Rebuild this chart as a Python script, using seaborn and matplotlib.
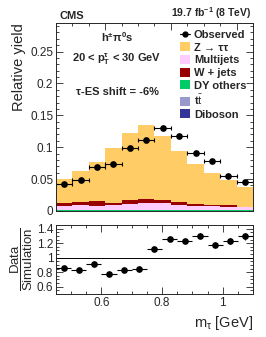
import numpy as np
import seaborn as sns
import matplotlib.pyplot as plt
from matplotlib.patches import Patch
from matplotlib.lines import Line2D
from matplotlib.ticker import MultipleLocator

sns.set_theme(style="ticks")
plt.rcParams['font.family'] = ['Liberation Sans', 'DejaVu Sans']
plt.rcParams['mathtext.fontset'] = 'custom'
plt.rcParams['mathtext.rm'] = 'Liberation Sans'
plt.rcParams['mathtext.it'] = 'Liberation Sans:italic'
plt.rcParams['mathtext.bf'] = 'Liberation Sans:bold'

# main panel: 12 bins of m_tau
main_edges = np.arange(0.45, 1.0501, 0.05)
diboson = [0.0002] * 12
ttbar = [0.0002] * 12
dy_others = [0.0005] * 12
multijets = [0.0070, 0.0081, 0.0075, 0.0081, 0.0101, 0.0113, 0.0113, 0.0091, 0.0075, 0.0070, 0.0059, 0.0050]
wjets = [0.0043, 0.0048, 0.0070, 0.0032, 0.0065, 0.0073, 0.0053, 0.0043, 0.0032, 0.0021, 0.0022, 0.0009]
ztautau = [0.0378, 0.0486, 0.0613, 0.0858, 0.1052, 0.1159, 0.0995, 0.0794, 0.0619, 0.0495, 0.0388, 0.0304]
observed = [0.0424, 0.0492, 0.0683, 0.0741, 0.0984, 0.1120, 0.1300, 0.1175, 0.0905, 0.0778, 0.0551, 0.0460]
observed_err = [0.0020, 0.0021, 0.0024, 0.0025, 0.0028, 0.0030, 0.0032, 0.0030, 0.0027, 0.0025, 0.0022, 0.0020]

# ratio panel: 13 bins
ratio_edges = np.arange(0.45, 1.1001, 0.05)
ratio = [0.855, 0.823, 0.918, 0.777, 0.823, 0.845, 1.118, 1.255, 1.232, 1.305, 1.182, 1.227, 1.295]
ratio_err = [0.025, 0.022, 0.022, 0.020, 0.020, 0.020, 0.022, 0.025, 0.030, 0.032, 0.035, 0.040, 0.045]

# stacking order, bottom to top
stack = [
    ("Diboson", diboson, "#333399"),
    (r"t$\bar{\mathrm{t}}$", ttbar, "#9999cc"),
    ("DY others", dy_others, "#00cc66"),
    ("Multijets", multijets, "#ffccff"),
    ("W + jets", wjets, "#990000"),
    ("Z → ττ", ztautau, "#ffcc66"),
]
legend_order = ["Z → ττ", "Multijets", "W + jets", "DY others", r"t$\bar{\mathrm{t}}$", "Diboson"]

fig = plt.figure(figsize=(2.66, 3.37), dpi=100)
ax = fig.add_axes([0.2105, 0.374, 0.7406, 0.558])
rax = fig.add_axes([0.2105, 0.128, 0.7406, 0.204])

centers = (main_edges[:-1] + main_edges[1:]) / 2
bottom = np.zeros(12)
for name, vals, col in stack:
    ax.bar(centers, vals, width=0.05, bottom=bottom, color=col, linewidth=0, align="center")
    bottom += np.array(vals)

ax.errorbar(centers, observed, xerr=0.025, yerr=observed_err, fmt="o", color="black",
            markersize=3.8, elinewidth=0.8, capsize=1.5, capthick=0.8)

ax.set_xlim(0.45, 1.05)
ax.set_ylim(0, 0.295)
ax.yaxis.set_minor_locator(MultipleLocator(0.01))
ax.xaxis.set_major_locator(MultipleLocator(0.2))
ax.xaxis.set_minor_locator(MultipleLocator(0.05))
ax.set_xticklabels([])
ax.set_yticks([0, 0.05, 0.1, 0.15, 0.2, 0.25])
ax.set_yticklabels(["0", "0.05", "0.1", "0.15", "0.2", "0.25"])
ax.set_ylabel("Relative yield", fontsize=10.5, loc="top", labelpad=3)

for a in (ax, rax):
    a.tick_params(which="both", direction="in", top=True, right=True, labelsize=8.5, pad=2)
    a.tick_params(which="major", length=5, width=0.6)
    a.tick_params(which="minor", length=2.5, width=0.6)
    for s in a.spines.values():
        s.set_linewidth(0.7)

ax.text(0.02, 1.012, "CMS", transform=ax.transAxes, fontsize=8, fontweight="bold", va="bottom", ha="left")
ax.text(0.99, 1.012, r"19.7 fb$^{\mathbf{-1}}$ (8 TeV)", transform=ax.transAxes, fontsize=7.5,
        fontweight="bold", va="bottom", ha="right")
ax.text(0.31, 0.925, r"h$^{\mathbf{\pm}}$π$^{\mathbf{0}}$s", transform=ax.transAxes,
        fontsize=8, fontweight="bold", ha="center", va="center")
ax.text(0.31, 0.805, r"20 < p$_{\mathbf{T}}^{\mathbf{τ}}$ < 30 GeV", transform=ax.transAxes,
        fontsize=8, fontweight="bold", ha="center", va="center")
ax.text(0.31, 0.63, "τ-ES shift = -6%", transform=ax.transAxes,
        fontsize=8, fontweight="bold", ha="center", va="center")

colors = {name: col for name, vals, col in stack}
handles = [Line2D([0], [0], color="black", marker="o", markersize=3.5, linewidth=0.8)]
labels = ["Observed"]
for name in legend_order:
    handles.append(Patch(facecolor=colors[name], edgecolor="none"))
    labels.append(name)
ax.legend(handles, labels, loc="upper right", bbox_to_anchor=(1.0, 1.0), frameon=False,
          prop={"size": 8, "weight": "bold"}, handlelength=0.9, handleheight=0.9,
          handletextpad=0.3, labelspacing=0.2, borderaxespad=0.2)

rcenters = (ratio_edges[:-1] + ratio_edges[1:]) / 2
rax.errorbar(rcenters, ratio, xerr=0.025, yerr=ratio_err, fmt="o", color="black",
             markersize=3.8, elinewidth=0.8, capsize=0)
rax.axhline(1.0, color="black", linewidth=0.7)
rax.set_xlim(0.45, 1.1)
rax.set_ylim(0.5, 1.45)
rax.xaxis.set_minor_locator(MultipleLocator(0.05))
rax.set_yticks([0.6, 0.8, 1.0, 1.2, 1.4])
rax.set_yticklabels(["0.6", "0.8", "1", "1.2", "1.4"])
rax.yaxis.set_minor_locator(MultipleLocator(0.05))
rax.set_xticks([0.6, 0.8, 1.0])
rax.set_xticklabels(["0.6", "0.8", "1"])
rax.set_ylabel(r"$\dfrac{\mathrm{Data}}{\mathrm{Simulation}}$", fontsize=9.5, labelpad=1)
rax.set_xlabel(r"m$_{\mathrm{τ}}$ [GeV]", fontsize=10.5, loc="right", labelpad=4)

fig.savefig("out.png", dpi=100)
